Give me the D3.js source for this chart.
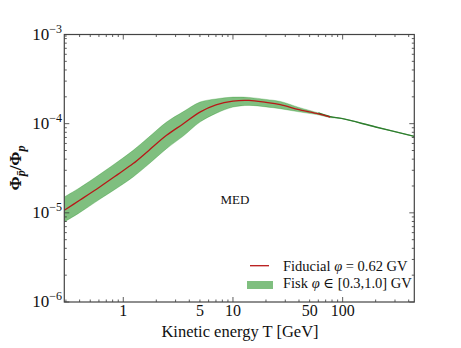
<!DOCTYPE html>
<html>
<head>
<meta charset="utf-8">
<script src="https://cdn.jsdelivr.net/npm/d3@7"></script>
<style>
  body { margin: 0; background: #fff; }
</style>
</head>
<body>
<div id="container"></div>
<script>
// kinetic energy grid (GeV) for the Fisk band
var energy = [0.29, 0.4, 0.61, 0.9, 1.23, 1.7, 2.48, 3.5, 5, 7, 10, 14, 20, 27, 40, 60, 77, 100, 200, 450];
var fiskHigh = [1.507e-5, 1.910e-5, 2.705e-5, 3.783e-5, 5.02e-5, 7.025e-5, 1.042e-4, 1.356e-4, 1.745e-4, 1.895e-4,
	1.986e-4, 1.970e-4, 1.871e-4, 1.777e-4, 1.522e-4, 1.321e-4, 1.201e-4, 1.138e-4, 9.18e-5, 7.21e-5];
var fiskLow = [7.91e-6, 1.003e-5, 1.420e-5, 1.935e-5, 2.523e-5, 3.501e-5, 5.248e-5, 7.208e-5, 1.042e-4, 1.304e-4,
	1.534e-4, 1.603e-4, 1.542e-4, 1.472e-4, 1.356e-4, 1.255e-4, 1.170e-4, 1.138e-4, 9.18e-5, 7.21e-5];
// fiducial phi = 0.62 GV (same grid, up to 100 GeV)
var fiducial = [1.069e-5, 1.384e-5, 1.950e-5, 2.719e-5, 3.565e-5, 4.984e-5, 7.396e-5, 9.92e-5, 1.349e-4, 1.624e-4,
	1.791e-4, 1.823e-4, 1.732e-4, 1.632e-4, 1.435e-4, 1.288e-4, 1.186e-4, 1.138e-4];

var xLabels = [1, 5, 10, 50, 100];
var yDecades = [-6, -5, -4, -3];

(function()
{
	var W = 461, H = 348;
	var left = 64.3, right = 414.3, top = 34.5, bottom = 302;
	var serif = "'Liberation Serif', 'DejaVu Serif', 'Times New Roman', serif";

	var svg = d3.select("#container").append("svg").attr("width", W).attr("height", H)
		.attr("font-family", serif).style("font-family", serif);

	var x = d3.scaleLog().domain([0.29, 450]).range([left, right]);
	var y = d3.scaleLog().domain([1e-6, 1e-3]).range([bottom, top]);

	svg.append("clipPath").attr("id", "clip").append("rect")
		.attr("x", left).attr("y", top).attr("width", right - left).attr("height", bottom - top);

	var g = svg.append("g").attr("clip-path", "url(#clip)");
	var curve = d3.curveCatmullRom.alpha(0.5);

	// Fisk band
	var bandData = energy.map(function(t, i) { return {t: t, lo: fiskLow[i], hi: fiskHigh[i]}; });
	var area = d3.area().curve(curve)
		.x(function(d) { return x(d.t); })
		.y0(function(d) { return y(d.lo); })
		.y1(function(d) { return y(d.hi); });
	g.append("path").datum(bandData).attr("d", area)
		.attr("fill", "green").attr("fill-opacity", 0.5)
		.attr("stroke", "green").attr("stroke-opacity", 0.3).attr("stroke-width", 0.8);

	// where the band collapses it reads as a dark green line
	var tail = bandData.filter(function(d) { return d.t >= 60; });
	g.append("path").datum(tail)
		.attr("d", d3.line().curve(curve).x(function(d) { return x(d.t); }).y(function(d) { return y(d.hi); }))
		.attr("fill", "none").attr("stroke", "#2e7d2e").attr("stroke-width", 1.4);

	// fiducial line
	var fidData = fiducial.map(function(v, i) { return {t: energy[i], v: v}; });
	var line = d3.line().curve(curve)
		.x(function(d) { return x(d.t); })
		.y(function(d) { return y(d.v); });
	g.append("path").datum(fidData.filter(function(d) { return d.t <= 77; })).attr("d", line)
		.attr("fill", "none").attr("stroke", "#b81818").attr("stroke-width", 1.3);

	// ticks (inward, all four sides)
	var ticks = svg.append("g").attr("stroke", "#333").attr("stroke-width", 0.8);
	var xTicks = [];
	for (var e = -1; e <= 2; e++)
		for (var m = 1; m <= 9; m++)
		{
			var v = m * Math.pow(10, e);
			if (v >= 0.29 && v <= 450) xTicks.push({v: v, major: m == 1});
		}
	xTicks.forEach(function(t)
	{
		var len = t.major ? 5 : 2.5;
		var px = x(t.v);
		ticks.append("line").attr("x1", px).attr("x2", px).attr("y1", bottom).attr("y2", bottom - len);
		ticks.append("line").attr("x1", px).attr("x2", px).attr("y1", top).attr("y2", top + len);
	});
	for (var d = -6; d <= -4; d++)
		for (var m2 = 1; m2 <= 9; m2++)
		{
			var py = y(m2 * Math.pow(10, d));
			var len2 = m2 == 1 ? 5 : 2.5;
			ticks.append("line").attr("x1", left).attr("x2", left + len2).attr("y1", py).attr("y2", py);
			ticks.append("line").attr("x1", right).attr("x2", right - len2).attr("y1", py).attr("y2", py);
		}

	// frame
	svg.append("rect").attr("x", left).attr("y", top).attr("width", right - left).attr("height", bottom - top)
		.attr("fill", "none").attr("stroke", "#444").attr("stroke-width", 1.2);

	// x tick labels
	xLabels.forEach(function(v)
	{
		svg.append("text").attr("x", x(v)).attr("y", 316).attr("text-anchor", "middle")
			.attr("fill", "#111").style("font-size", "16px").text(v);
	});

	// y tick labels 10^n
	yDecades.forEach(function(n)
	{
		var t = svg.append("text").attr("x", 62).attr("y", y(Math.pow(10, n)) + 5)
			.attr("text-anchor", "end").attr("fill", "#111").style("font-size", "17px");
		t.append("tspan").text("10");
		t.append("tspan").attr("dy", -7).style("font-size", "12px").text("\u2212" + (-n));
	});

	// axis labels
	svg.append("text").attr("x", 240).attr("y", 337).attr("text-anchor", "middle")
		.attr("fill", "#111").style("font-size", "16.5px").text("Kinetic energy T [GeV]");

	var yl = svg.append("text").attr("transform", "translate(21,168) rotate(-90)")
		.attr("text-anchor", "middle").attr("fill", "#111")
		.style("font-size", "17px").style("font-weight", "bold");
	yl.append("tspan").text("\u03A6");
	yl.append("tspan").attr("dy", 4).style("font-size", "12px").style("font-style", "italic").text("p\u0304");
	yl.append("tspan").attr("dy", -4).text("/\u03A6");
	yl.append("tspan").attr("dy", 4).style("font-size", "12px").style("font-style", "italic").text("p");

	svg.append("text").attr("x", 235).attr("y", 204).attr("text-anchor", "middle")
		.attr("fill", "#111").style("font-size", "13px").text("MED");

	// legend
	var lg = svg.append("g");
	lg.append("line").attr("x1", 250).attr("x2", 269).attr("y1", 265.7).attr("y2", 265.7)
		.attr("stroke", "#b81818").attr("stroke-width", 1.3);
	var t1 = lg.append("text").attr("x", 283).attr("y", 270.5).attr("fill", "#111").style("font-size", "14.5px");
	t1.append("tspan").text("Fiducial ");
	t1.append("tspan").style("font-style", "italic").text("\u03C6");
	t1.append("tspan").text(" = 0.62 GV");
	lg.append("rect").attr("x", 247).attr("y", 281).attr("width", 26).attr("height", 8)
		.attr("fill", "green").attr("fill-opacity", 0.5);
	var t2 = lg.append("text").attr("x", 283).attr("y", 288).attr("fill", "#111").style("font-size", "14.5px");
	t2.append("tspan").text("Fisk ");
	t2.append("tspan").style("font-style", "italic").text("\u03C6");
	t2.append("tspan").text(" \u2208 [0.3,1.0] GV");
})();
</script>
</body>
</html>
